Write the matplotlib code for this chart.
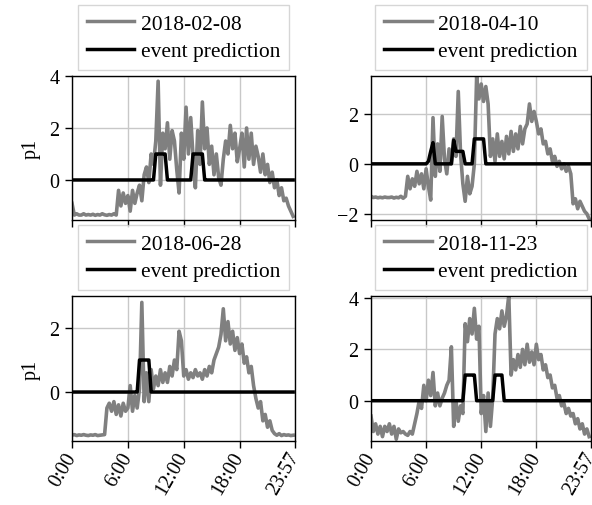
import numpy as np
import matplotlib
matplotlib.use("Agg")
import matplotlib.pyplot as plt

plt.rcParams['font.family'] = ['Liberation Serif', 'DejaVu Serif']

# time axis (minutes after midnight, 15-minute samples)
minutes = np.arange(0, 1440, 15)
tick_pos = [0, 360, 720, 1080, 1437]
tick_labels = ['0:00', '6:00', '12:00', '18:00', '23:57']

dates = ['2018-02-08', '2018-04-10', '2018-06-28', '2018-11-23']

p1_0208 = [-0.9, -1.35, -1.3, -1.35, -1.35, -1.3, -1.35, -1.33,
           -1.35, -1.32, -1.36, -1.33, -1.35, -1.3, -1.34, -1.36,
           -1.33, -1.35, -1.3, -1.35, -0.4, -1.0, -0.5, -0.9,
           -0.6, -1.2, -0.4, -0.9, -0.5, -0.2, -0.8, 0.2,
           0.5, -0.1, 1.0, 0.6, 1.5, 3.8, -0.2, 1.8,
           1.2, 2.2, 0.8, 1.9, 1.5, 0.4, -0.5, 1.8,
           0.8, 2.8, 1.0, 2.4, 0.9, -0.3, 1.9, 0.6,
           3.0, 1.2, 2.0, 0.6, 1.3, 0.2, 1.0, 0.1,
           -0.2, 0.8, 1.5, 1.0, 2.1, 1.2, 1.8, 0.7,
           1.2, 1.8, 0.5, 2.0, 0.8, 1.8, 0.6, 1.3,
           0.9, 0.3, 1.0, 0.2, 0.6, -0.1, 0.3, -0.3,
           0.0, -0.6, -0.3, -0.8, -0.7, -1.0, -1.2, -1.4]

p1_0410 = [-1.3, -1.35, -1.33, -1.36, -1.34, -1.36, -1.33, -1.35,
           -1.35, -1.33, -1.37, -1.34, -1.36, -1.3, -1.38, -1.3,
           -0.5, -1.0, -0.6, -0.9, -0.3, -0.8, -0.4, -1.0,
           -0.2, -0.9, -1.45, 1.85, -0.5, 0.8, -0.3, 1.9,
           0.2, -0.4, 0.6, 0.0, 1.0, 0.3, 2.9, 0.4,
           -0.8, -1.5, -0.5, -1.2, -0.9, 0.0, 3.5, 2.6,
           3.2, 2.5, 3.1, 2.4, 0.3, 1.0, 0.1, 1.2,
           0.3, 0.9, 0.2, 1.1, 0.4, 1.3, 0.5, 1.2,
           0.6, 1.5, 0.8, 1.4, 1.6, 2.4, 1.7, 2.1,
           1.7, 1.2, 1.4, 0.8, 0.9, 0.4, 0.6, 0.1,
           0.3, -0.1, 0.1, -0.2, 0.0, -0.3, -0.1, -0.4,
           -1.6, -1.4, -1.8, -1.5, -1.7, -1.9, -2.0, -2.2]

p1_0628 = [-1.35, -1.33, -1.36, -1.34, -1.35, -1.33, -1.35, -1.36,
           -1.34, -1.35, -1.33, -1.36, -1.35, -1.34, -1.33, -0.5,
           -0.35, -0.6, -0.3, -0.7, -0.4, -0.75, -0.35, -0.6,
           -0.5, 0.2, -0.6, -0.1, -0.5, 0.1, 2.8, -0.3,
           0.6, -0.3, 0.7, 0.1, 0.5, 0.2, 0.7, 0.3,
           0.6, 0.3, 0.8, 0.5, 1.0, 0.7, 1.9, 1.6,
           0.5, 0.7, 0.4, 0.6, 0.45, 0.7, 0.5, 0.6,
           0.4, 0.7, 0.5, 0.8, 0.6, 1.0, 1.2, 1.4,
           1.8, 2.6, 1.6, 2.2, 1.5, 1.9, 1.3, 1.7,
           1.2, 1.5, 0.9, 1.1, 0.6, 0.8, 0.2, -0.2,
           -0.5, -0.3, -0.9, -0.7, -1.1, -0.9, -1.2, -1.3,
           -1.35, -1.3, -1.36, -1.33, -1.35, -1.34, -1.36, -1.35]

p1_1123 = [-0.6, -1.2, -0.9, -1.3, -1.0, -1.4, -1.0, -1.2,
           -0.9, -1.3, -1.0, -1.5, -1.1, -1.25, -1.2, -1.3,
           -1.35, -1.2, -1.3, -0.9, -0.5, 0.0, -0.3, 0.6,
           0.0, 0.8, 0.2, 1.1, -0.2, 0.3, -0.2, 0.1,
           0.3, 0.6, 0.8, 2.1, -1.0, 0.0, -0.8, -0.2,
           -0.5, 3.0, 2.3, 3.2, 2.6, 3.6, 2.4, 2.9,
           -0.5, 0.2, -1.2, 0.3, -1.0, 0.1, 2.6, 3.2,
           2.8, 3.5, 2.9, 3.3, 4.1, 1.0, 1.6, 1.2,
           1.8, 1.3, 2.0, 1.4, 2.2, 1.5, 1.9, 1.4,
           2.2, 1.6, 1.8, 1.2, 1.4, 0.9, 1.0, 0.5,
           0.6, 0.1, 0.2, -0.2, -0.1, -0.5, -0.3, -0.6,
           -0.5, -0.9, -0.7, -1.1, -0.9, -1.3, -1.1, -1.4]

ev_0208 = [0] * 36 + [1] * 5 + [0] * 11 + [1] * 5 + [0] * 39
ev_0410 = ([0] * 25 + [0.1, 0.5, 0.85] + [0] * 8 + [0.95, 0.5, 0.5, 0.5, 0.5]
           + [0] * 4 + [1] * 5 + [0] * 46)
ev_0628 = [0] * 29 + [1] * 5 + [0] * 62
ev_1123 = [0] * 41 + [1] * 5 + [0] * 8 + [1] * 4 + [0] * 38

series = [p1_0208, p1_0410, p1_0628, p1_1123]
events = [ev_0208, ev_0410, ev_0628, ev_1123]
ylims = [(-1.54, 4.0), (-2.25, 3.52), (-1.53, 3.0), (-1.57, 4.08)]
yticks = [[0, 2, 4], [-2, 0, 2], [0, 2], [0, 2, 4]]

W, H = 592, 506
fig = plt.figure(figsize=(W / 100, H / 100), dpi=100)

boxes = [(72, 77, 295, 221), (371, 77, 591, 221),
         (72, 297, 295, 442), (371, 297, 591, 442)]

for k in range(4):
    l, t, r, b = boxes[k]
    ax = fig.add_axes([l / W, 1 - b / H, (r - l) / W, (b - t) / H])
    ax.plot(minutes, series[k], color='#808080', lw=2.6, label=dates[k], zorder=2)
    ax.plot(minutes, events[k], color='black', lw=2.5, label='event prediction', zorder=3)
    ax.set_xlim(0, 1437)
    ax.set_ylim(*ylims[k])
    ax.set_yticks(yticks[k])
    ax.set_xticks(tick_pos)
    ax.grid(True, color='#c8c8c8', lw=1.0)
    ax.set_axisbelow(True)
    for s in ax.spines.values():
        s.set_linewidth(1.0)
    ax.tick_params(axis='both', direction='out', length=5, width=1, labelsize=14.5, pad=4)
    if k >= 2:
        ax.set_xticklabels(tick_labels, rotation=60, ha='right', va='center',
                           rotation_mode='anchor')
    else:
        ax.set_xticklabels([])
    if k % 2 == 0:
        ax.set_ylabel('p1', fontsize=14.5, labelpad=6)
    leg = ax.legend(loc='lower center', bbox_to_anchor=(0.5, 1.04), fontsize=15.5,
                    frameon=True, fancybox=False, edgecolor='#cccccc',
                    handlelength=2.2, handletextpad=0.3, labelspacing=0.33,
                    borderpad=0.42, borderaxespad=0)
    leg.get_frame().set_linewidth(1.0)
    for ln in leg.get_lines():
        ln.set_linewidth(2.5)

fig.savefig('out.png', dpi=100)
